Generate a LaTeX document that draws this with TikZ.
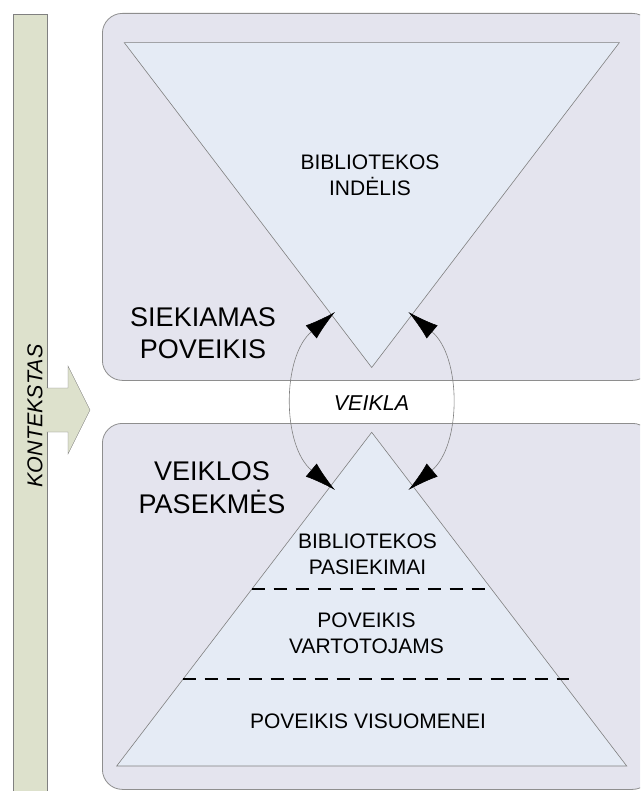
\documentclass[tikz,border=0pt]{standalone}
\usepackage{fontspec}
\setmainfont{Liberation Sans}
\usetikzlibrary{arrows.meta}
\definecolor{panelfill}{HTML}{E4E4EE}
\definecolor{panelline}{HTML}{8E8E8E}
\definecolor{trifill}{HTML}{E5EBF5}
\definecolor{barfill}{HTML}{DDE1CC}
\tikzstyle{panel} = [rectangle, rounded corners=20pt, draw=panelline, fill=panelfill, line width=0.8pt, anchor=north west]
\tikzstyle{tri} = [draw=gray, fill=trifill, line width=0.6pt]
\tikzstyle{tritext} = [align=center, font=\fontsize{21}{25.7}\selectfont]
\tikzstyle{bigtext} = [align=center, font=\fontsize{27}{32.3}\selectfont]
\tikzstyle{dashline} = [line width=2pt, dash pattern=on 13pt off 9pt]
\tikzstyle{arrow} = [line width=0.6pt, draw=gray, {Latex[length=31pt,width=17pt,color=black]}-{Latex[length=31pt,width=17pt,color=black]}]

\begin{document}
\begin{tikzpicture}[x=1pt, y=-1pt]
    \clip (0,0) rectangle (640,791);
    \fill [white] (0,0) rectangle (640,791);
    \node (goal) [panel, minimum width=550pt, minimum height=367pt] at (102,13) {};
    \node (result) [panel, minimum width=550pt, minimum height=366pt] at (102,423) {};
    \node (context) [rectangle, draw=gray, fill=barfill, minimum width=33.5pt, minimum height=800pt, anchor=north west] at (13,14) {};
    \fill [barfill] (45.5,388) -- (68,388) -- (68,366) -- (90,410) -- (68,454) -- (68,432) -- (45.5,432) -- cycle;
    \draw [gray] (46.7,388) -- (68,388) -- (68,366) -- (90,410) -- (68,454) -- (68,432) -- (46.7,432);
    \node (contextText) [rotate=90, font=\fontsize{21.5}{25}\selectfont\itshape] at (35,416) {KONTEKSTAS};
    % triangles
    \coordinate (tL) at (124.3,42.7);
    \coordinate (tR) at (619.3,42.7);
    \coordinate (tApex) at (371.7,367.5);
    \coordinate (bApex) at (371.7,432.3);
    \coordinate (bL) at (116.7,766);
    \coordinate (bR) at (626.7,766);
    \draw [tri] (tL) -- (tR) -- (tApex) -- cycle;
    \draw [tri] (bApex) -- (bR) -- (bL) -- cycle;
    \coordinate (d1L) at (251.7,589.3);
    \coordinate (d1R) at (490,589.3);
    \coordinate (d2L) at (182.7,679);
    \coordinate (d2R) at (569.3,679);
    \draw [dashline] (d1L) -- (d1R);
    \draw [dashline] (d2L) -- (d2R);
    % texts
    \node (input) [tritext] at (370,175) {BIBLIOTEKOS\\INDĖLIS};
    \node (goalText) [bigtext] at (203,333.2) {SIEKIAMAS\\POVEIKIS};
    \node (resultText) [bigtext] at (212,487.8) {VEIKLOS\\PASEKMĖS};
    \node (output) [tritext] at (367.5,554.5) {BIBLIOTEKOS\\PASIEKIMAI};
    \node (users) [tritext] at (366.5,633.6) {POVEIKIS\\VARTOTOJAMS};
    \node (society) [tritext] at (368,721.5) {POVEIKIS VISUOMENEI};
    \node (activity) [font=\fontsize{21.5}{25}\selectfont\itshape] at (371.5,402.8) {VEIKLA};
    % arcs
    \coordinate (tipTL) at (335,312);
    \coordinate (tipTR) at (408.4,312);
    \coordinate (tipBL) at (335,490);
    \coordinate (tipBR) at (408.4,490);
    \draw [arrow] (tipTL) to[bend right=50] (tipBL);
    \draw [arrow] (tipTR) to[bend left=50] (tipBR);
\end{tikzpicture}
\end{document}
